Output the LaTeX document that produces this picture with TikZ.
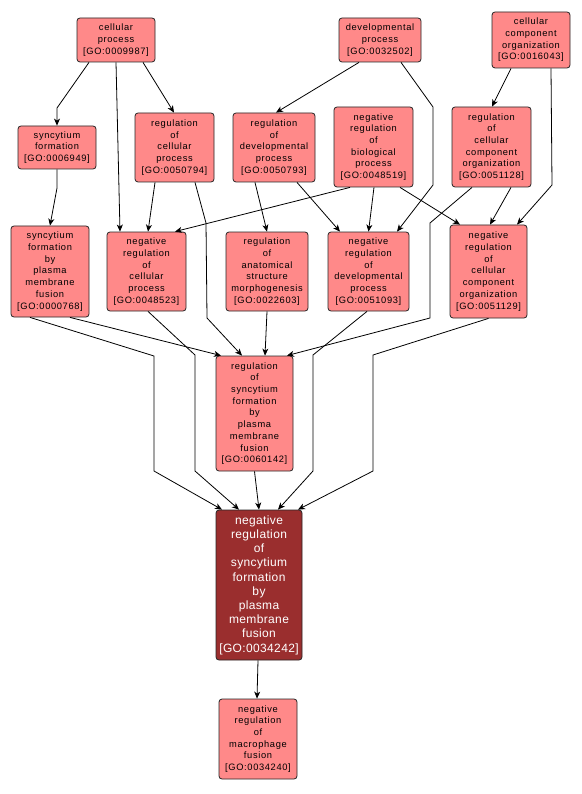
\documentclass[tikz,border=0pt]{standalone}
\usepackage{fontspec}
\newfontfamily\lblfont{Liberation Sans}[LetterSpace=7]
\newfontfamily\lblbig{Liberation Sans}[LetterSpace=3]
\usetikzlibrary{arrows.meta}
\definecolor{gofill}{RGB}{255,137,137}
\definecolor{godark}{RGB}{154,46,46}
\tikzset{
  goterm/.style={draw=black!85, line width=0.8pt, rounded corners=3pt, fill=gofill,
    align=center, inner sep=0pt, text=black,
    font=\lblfont\fontsize{9.3}{11.7}\selectfont},
  goself/.style={goterm, fill=godark, text=white,
    font=\lblbig\fontsize{12}{14.2}\selectfont},
  edge/.style={draw=black, line width=0.8pt, -{Stealth[length=7pt,width=6pt,inset=2pt]}}
}
\begin{document}
\begin{tikzpicture}[x=1pt,y=-1pt]
\useasboundingbox (0,0) rectangle (581,794);
\fill[white] (0,0) rectangle (581,794);

% nodes
\node[goterm, minimum width=78pt, minimum height=44pt] (cp) at (116,40) {cellular\\process\\{[GO:0009987]}};
\node[goterm, minimum width=82pt, minimum height=44pt] (dp) at (380,40) {developmental\\process\\{[GO:0032502]}};
\node[goterm, minimum width=78pt, minimum height=56pt] (cco) at (531,40) {cellular\\component\\organization\\{[GO:0016043]}};
\node[goterm, minimum width=78pt, minimum height=43pt] (sf) at (57,147.5) {syncytium\\formation\\{[GO:0006949]}};
\node[goterm, minimum width=79pt, minimum height=69pt] (rcp) at (174.5,147.5) {regulation\\of\\cellular\\process\\{[GO:0050794]}};
\node[goterm, minimum width=82pt, minimum height=69pt] (rdp) at (274,147.5) {regulation\\of\\developmental\\process\\{[GO:0050793]}};
\node[goterm, minimum width=79pt, minimum height=80pt] (nrbp) at (373.5,147) {negative\\regulation\\of\\biological\\process\\{[GO:0048519]}};
\node[goterm, minimum width=79pt, minimum height=80pt] (rcco) at (491.5,147) {regulation\\of\\cellular\\component\\organization\\{[GO:0051128]}};
\node[goterm, minimum width=78pt, minimum height=91pt] (sfpmf) at (50,271.5) {syncytium\\formation\\by\\plasma\\membrane\\fusion\\{[GO:0000768]}};
\node[goterm, minimum width=79pt, minimum height=79pt] (nrcp) at (146.5,271.5) {negative\\regulation\\of\\cellular\\process\\{[GO:0048523]}};
\node[goterm, minimum width=82pt, minimum height=79pt] (rasm) at (267,271.5) {regulation\\of\\anatomical\\structure\\morphogenesis\\{[GO:0022603]}};
\node[goterm, minimum width=81pt, minimum height=79pt] (nrdp) at (368.5,271.5) {negative\\regulation\\of\\developmental\\process\\{[GO:0051093]}};
\node[goterm, minimum width=77pt, minimum height=93pt] (nrcco) at (488.5,271.5) {negative\\regulation\\of\\cellular\\component\\organization\\{[GO:0051129]}};
\node[goterm, minimum width=77pt, minimum height=115pt] (rsf) at (254.5,413.5) {regulation\\of\\syncytium\\formation\\by\\plasma\\membrane\\fusion\\{[GO:0060142]}};
\node[goself, minimum width=86pt, minimum height=150pt] (nrsf) at (259,585) {negative\\regulation\\of\\syncytium\\formation\\by\\plasma\\membrane\\fusion\\{[GO:0034242]}};
\node[goterm, minimum width=78pt, minimum height=80pt] (nrmf) at (258,739) {negative\\regulation\\of\\macrophage\\fusion\\{[GO:0034240]}};

% edges
\draw[edge] ([xshift=-27pt]cp.south) -- (57,108) -- (sf.north);
\draw[edge] ([xshift=27pt]cp.south) -- ([xshift=-0.5pt]rcp.north);
\draw[edge] (cp.south) -- ([xshift=-26.5pt]nrcp.north);
\draw[edge] (sf.south) -- (57,188) -- (sfpmf.north);
\draw[edge] ([xshift=-19.5pt]rcp.south) -- ([xshift=1.5pt]nrcp.north);
\draw[edge] ([xshift=20.5pt]rcp.south) -- (206,223) -- (207,318) -- ([xshift=-12.5pt]rsf.north);
\draw[edge] ([xshift=-21pt]dp.south) -- ([xshift=2pt]rdp.north);
\draw[edge] ([xshift=21pt]dp.south) -- (433,107) -- (433,185) -- ([xshift=28.5pt]nrdp.north);
\draw[edge] ([xshift=-20pt]cco.south) -- ([xshift=0.5pt]rcco.north);
\draw[edge] ([xshift=20pt]cco.south) -- (552,185) -- ([xshift=28.5pt]nrcco.north);
\draw[edge] ([xshift=-19pt]rdp.south) -- (rasm.north);
\draw[edge] ([xshift=23pt]rdp.south) -- ([xshift=-28.5pt]nrdp.north);
\draw[edge] ([xshift=-23.5pt]nrbp.south) -- ([xshift=28.5pt]nrcp.north);
\draw[edge] ([xshift=0.5pt]nrbp.south) -- (nrdp.north);
\draw[edge] ([xshift=26.5pt]nrbp.south) -- ([xshift=-28.5pt]nrcco.north);
\draw[edge] ([xshift=-19.5pt]rcco.south) -- (430,223) -- (430,318) -- ([xshift=32.5pt]rsf.north);
\draw[edge] ([xshift=19.5pt]rcco.south) -- ([xshift=1.5pt]nrcco.north);
\draw[edge] ([xshift=20pt]sfpmf.south) -- ([xshift=-33.5pt]rsf.north);
\draw[edge] ([xshift=-20pt]sfpmf.south) -- (154,356) -- (154,471) -- ([xshift=-37pt]nrsf.north);
\draw[edge] ([xshift=1.5pt]nrcp.south) -- (195,355) -- (195,471) -- ([xshift=-20pt]nrsf.north);
\draw[edge] (rasm.south) -- ([xshift=10.5pt]rsf.north);
\draw[edge] ([xshift=-1.5pt]nrdp.south) -- (313,355) -- (313,471) -- ([xshift=19pt]nrsf.north);
\draw[edge] (nrcco.south) -- (373,355) -- (373,471) -- ([xshift=39pt]nrsf.north);
\draw[edge] (rsf.south) -- (nrsf.north);
\draw[edge] ([xshift=-1pt]nrsf.south) -- ([xshift=-1pt]nrmf.north);
\end{tikzpicture}
\end{document}
